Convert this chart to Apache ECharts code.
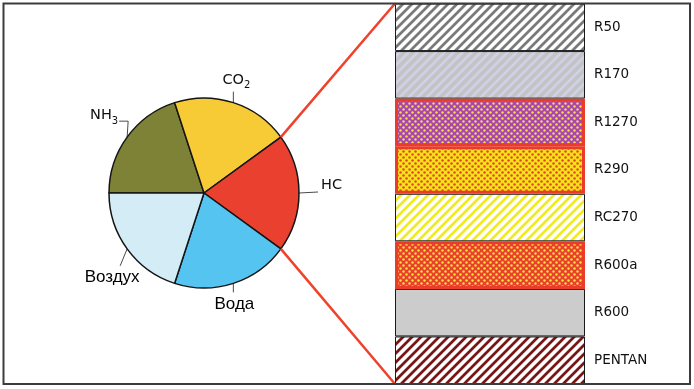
<!DOCTYPE html>
<html><head><meta charset="utf-8">
<script src="https://cdn.jsdelivr.net/npm/echarts@6/dist/echarts.min.js"></script>
<style>html,body{margin:0;padding:0;background:#fff}#c{width:694px;height:389px}</style>
</head><body><div id="c"></div>
<script>
// ---- data ----
const pieNames = ['NH3', 'CO2', 'HC', 'Вода', 'Воздух'];
const pieLabels = ['{m|NH}{s|3}', '{m|CO}{s|2}', '{m|HC}', '{r|Вода}', '{r|Воздух}'];
const pieValues = [20, 20, 20, 20, 20];
const pieColors = ['#7e8237', '#f7cb36', '#e9402f', '#55c4f0', '#d3ecf5'];
const barNames = ['R50', 'R170', 'R1270', 'R290', 'RC270', 'R600a', 'R600', 'PENTAN']; // top to bottom
const barValues = [1, 1, 1, 1, 1, 1, 1, 1];
const highlighted = ['R1270', 'R290', 'R600a'];
const linkedSlice = 'HC';

// ---- patterns ----
function hex(c) { return [parseInt(c.slice(1, 3), 16), parseInt(c.slice(3, 5), 16), parseInt(c.slice(5, 7), 16)]; }
function stripes(bg, fg, size, w) {
  const c = document.createElement('canvas'); c.width = c.height = size;
  const x = c.getContext('2d');
  const img = x.createImageData(size, size);
  const B = hex(bg), F = hex(fg);
  for (let py = 0; py < size; py++) for (let px = 0; px < size; px++) {
    const d = (px + py) % size;
    let t = d < w ? 1 : (d < w + 1 ? 0.45 : (d === size - 1 ? 0.45 : 0));
    const i = (py * size + px) * 4;
    for (let k = 0; k < 3; k++) img.data[i + k] = Math.round(B[k] * (1 - t) + F[k] * t);
    img.data[i + 3] = 255;
  }
  x.putImageData(img, 0, 0);
  return { image: c, repeat: 'repeat' };
}
function dots(bg, fg, size, r) {
  const c = document.createElement('canvas'); c.width = c.height = size;
  const x = c.getContext('2d');
  x.fillStyle = bg; x.fillRect(0, 0, size, size);
  x.fillStyle = fg;
  [[size / 4, size / 4], [size * 3 / 4, size * 3 / 4]].forEach(p => { x.beginPath(); x.arc(p[0], p[1], r, 0, Math.PI * 2); x.fill(); });
  return { image: c, repeat: 'repeat' };
}
const fills = {
  'R50': stripes('#ffffff', '#7a7a7a', 9, 3),
  'R170': stripes('#c3c3c3', '#d0d0e6', 9, 3),
  'R1270': dots('#aa44ae', '#f2e43a', 6, 1.2),
  'R290': dots('#f6e21a', '#e8432f', 6, 1.25),
  'RC270': stripes('#ffffff', '#f2ea22', 9, 3),
  'R600a': dots('#e9402e', '#f4e634', 6, 1.2),
  'R600': '#cccccc',
  'PENTAN': stripes('#ffffff', '#781515', 9, 3)
};

const chart = echarts.init(document.getElementById('c'), null, { renderer: 'canvas' });
const pieCenter = [204, 193];
const pieRadius = 95;
const startAngle = 180;

const bottomUp = barNames.slice().reverse();
const barSeries = bottomUp.map(name => {
  const hi = highlighted.indexOf(name) >= 0;
  const idx = barNames.indexOf(name);
  return {
    type: 'bar', name: name, stack: 'all', barWidth: 190, z: hi ? 4 : 2,
    data: [barValues[idx]],
    itemStyle: { color: fills[name], borderColor: hi ? '#eb3b2a' : '#1a1a1a', borderWidth: hi ? 3 : 1 },
    label: { show: true, position: 'right', distance: 9, formatter: name, fontFamily: 'DejaVu Sans', fontSize: 13.5, color: '#111' },
    emphasis: { disabled: true }, silent: true
  };
});

const labelTweaks = [
  e => { const a = [e[0] + 1, e[1] - 16], b = [a[0] - 9, a[1]]; return { x: b[0] - 1, y: b[1] - 4, align: 'right', verticalAlign: 'middle', labelLinePoints: [e, a, b] }; },
  e => { const a = [e[0], e[1] - 11]; return { x: a[0] + 3, y: a[1] - 1, align: 'center', verticalAlign: 'bottom', labelLinePoints: [e, a, a] }; },
  e => { const a = [e[0] + 19, e[1] - 1]; return { x: a[0] + 3, y: a[1] - 5, align: 'left', verticalAlign: 'middle', labelLinePoints: [e, a, a] }; },
  e => { const a = [e[0], e[1] + 9]; return { x: a[0] + 1, y: a[1] + 2, align: 'center', verticalAlign: 'top', labelLinePoints: [e, a, a] }; },
  e => { const a = [e[0] - 7, e[1] + 17]; return { x: a[0] - 8, y: a[1] + 1, align: 'center', verticalAlign: 'top', labelLinePoints: [e, a, a] }; }
];

chart.setOption({
  animation: false,
  grid: { left: 395, right: 109, top: 3.5, bottom: 5 },
  xAxis: { type: 'category', data: ['all'], show: false },
  yAxis: { type: 'value', min: 0, max: barValues.length, show: false },
  series: [{
    type: 'pie', center: pieCenter, radius: pieRadius, startAngle: startAngle, clockwise: true,
    silent: true, emphasis: { disabled: true },
    data: pieNames.map((n, i) => ({ name: n, value: pieValues[i], itemStyle: { color: pieColors[i] } })),
    itemStyle: { borderColor: '#141414', borderWidth: 1.5 },
    label: {
      show: true, position: 'outside', formatter: p => pieLabels[p.dataIndex], color: '#111',
      rich: {
        m: { fontFamily: 'DejaVu Sans', fontSize: 14.5, lineHeight: 18, verticalAlign: 'top', color: '#111' },
        s: { fontFamily: 'DejaVu Sans', fontSize: 10, lineHeight: 13, verticalAlign: 'bottom', color: '#111' },
        r: { fontFamily: 'Liberation Sans', fontSize: 17, lineHeight: 20, color: '#000' }
      }
    },
    labelLine: { show: true, length: 10, length2: 8, lineStyle: { color: '#4a4a4a', width: 1 } },
    labelLayout: p => { const pts = p.labelLinePoints; if (!pts) return {}; return labelTweaks[p.dataIndex](pts[0]); }
  }].concat(barSeries)
});

// connecting lines from the linked slice edges to the bar's outer corners
const total = pieValues.reduce((a, b) => a + b, 0);
const li = pieNames.indexOf(linkedSlice);
const before = pieValues.slice(0, li).reduce((a, b) => a + b, 0);
const a1 = (startAngle - 360 * before / total) * Math.PI / 180;
const a2 = (startAngle - 360 * (before + pieValues[li]) / total) * Math.PI / 180;
const p1 = [pieCenter[0] + pieRadius * Math.cos(a1), pieCenter[1] - pieRadius * Math.sin(a1)];
const p2 = [pieCenter[0] + pieRadius * Math.cos(a2), pieCenter[1] - pieRadius * Math.sin(a2)];
const topPt = chart.convertToPixel({ xAxisIndex: 0, yAxisIndex: 0 }, [0, barValues.length]);
const botPt = chart.convertToPixel({ xAxisIndex: 0, yAxisIndex: 0 }, [0, 0]);
const leftX = topPt[0] - 95;

chart.setOption({
  graphic: [
    { type: 'rect', shape: { x: 3.5, y: 3.5, width: 686.5, height: 380.5 }, style: { fill: 'none', stroke: '#3c3c3c', lineWidth: 2 }, z: 10, silent: true },
    { type: 'line', shape: { x1: p1[0], y1: p1[1], x2: leftX, y2: topPt[1] }, style: { stroke: '#f0412b', lineWidth: 2.5 }, z: 9, silent: true },
    { type: 'line', shape: { x1: p2[0], y1: p2[1], x2: leftX, y2: botPt[1] }, style: { stroke: '#f0412b', lineWidth: 2.5 }, z: 9, silent: true }
  ]
});
</script></body></html>
